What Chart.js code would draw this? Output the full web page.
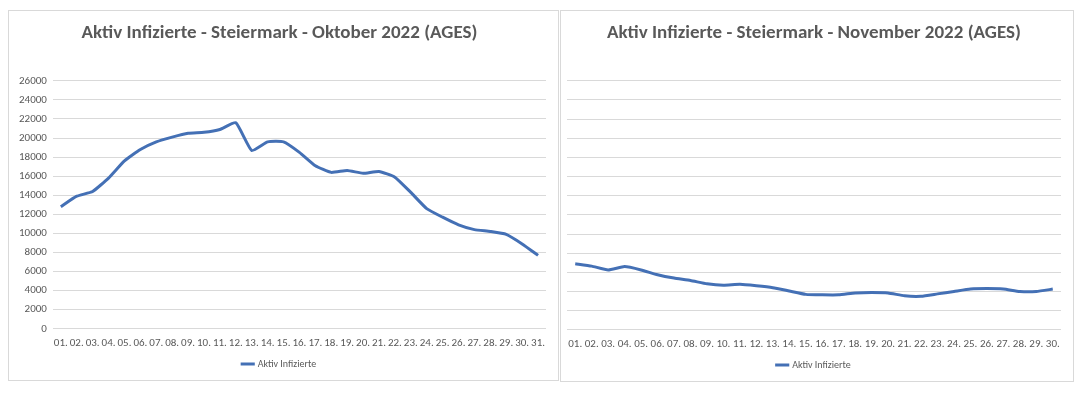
<!DOCTYPE html>
<html lang="de">
<head>
  <meta charset="UTF-8">
  <title>Aktiv Infizierte - Steiermark</title>
  <script src="https://cdn.jsdelivr.net/npm/chart.js"></script>
  <style>
    body { margin: 0; background: #fff; width: 1083px; height: 395px; position: relative; overflow: hidden; }
    .panel { position: absolute; border: 1px solid #d9d9d9; background: #fff; box-sizing: border-box; }
    #p1 { left: 8px; top: 10px; width: 551px; height: 371px; }
    #p2 { left: 560px; top: 10px; width: 514px; height: 372px; }
  </style>
</head>
<body>
  <div class="panel" id="p1"><canvas id="octChart"></canvas></div>
  <div class="panel" id="p2"><canvas id="novChart"></canvas></div>

  <script>
    // Tageswerte
    const octDays = ['01.','02.','03.','04.','05.','06.','07.','08.','09.','10.','11.','12.','13.','14.','15.','16.',
                     '17.','18.','19.','20.','21.','22.','23.','24.','25.','26.','27.','28.','29.','30.','31.'];
    const octActive = [12800, 13900, 14400, 15800, 17600, 18800, 19600, 20100, 20500, 20600, 20900, 21600, 18700, 19600, 19600, 18500,
                       17100, 16400, 16600, 16300, 16500, 15900, 14300, 12600, 11700, 10900, 10400, 10200, 9900, 8900, 7700];

    const novDays = ['01.','02.','03.','04.','05.','06.','07.','08.','09.','10.','11.','12.','13.','14.','15.',
                     '16.','17.','18.','19.','20.','21.','22.','23.','24.','25.','26.','27.','28.','29.','30.'];
    const novActive = [6900, 6650, 6250, 6600, 6250, 5750, 5400, 5150, 4800, 4650, 4750, 4600, 4400, 4050, 3700,
                       3650, 3650, 3850, 3900, 3850, 3550, 3500, 3750, 4000, 4250, 4300, 4250, 4000, 4000, 4250];

    const seriesName = 'Aktiv Infizierte';
    const fontFam = "Carlito, 'Liberation Sans Narrow', 'DejaVu Sans Condensed', 'Open Sans', sans-serif";
    const gray = '#595959';
    const lineBlue = '#4470b5';

    function makeChart(id, title, labels, values, showY, leftPad) {
      return new Chart(document.getElementById(id), {
        type: 'line',
        data: {
          labels: labels,
          datasets: [{
            label: seriesName,
            data: values,
            borderColor: lineBlue,
            backgroundColor: lineBlue,
            borderWidth: 3,
            pointRadius: 0,
            tension: 0.15,
            fill: false
          }]
        },
        options: {
          responsive: true,
          maintainAspectRatio: false,
          animation: false,
          layout: { padding: { top: 11, right: 12, left: leftPad, bottom: 1 } },
          plugins: {
            title: {
              display: true,
              text: title,
              color: gray,
              font: { family: fontFam, size: 19, weight: 'bold' },
              padding: { top: 0, bottom: 36 }
            },
            legend: {
              position: 'bottom',
              labels: {
                color: gray,
                font: { family: fontFam, size: 10 },
                usePointStyle: true,
                pointStyle: 'line',
                boxWidth: 38,
                padding: 9
              }
            },
            tooltip: { enabled: false }
          },
          scales: {
            x: {
              offset: true,
              grid: { display: false },
              border: { display: false },
              ticks: {
                color: gray,
                font: { family: fontFam, size: 11 },
                autoSkip: false,
                maxRotation: 0,
                minRotation: 0,
                padding: 0
              }
            },
            y: {
              min: 0,
              max: 26000,
              grid: { color: '#d9d9d9', drawTicks: false },
              border: { display: false },
              ticks: {
                display: showY,
                stepSize: 2000,
                color: gray,
                font: { family: fontFam, size: 11 },
                padding: 6,
                callback: v => String(v)
              }
            }
          }
        }
      });
    }

    makeChart('octChart', 'Aktiv Infizierte - Steiermark - Oktober 2022 (AGES)', octDays, octActive, true, 4);
    makeChart('novChart', 'Aktiv Infizierte - Steiermark - November 2022 (AGES)', novDays, novActive, false, 6);
  </script>
</body>
</html>
